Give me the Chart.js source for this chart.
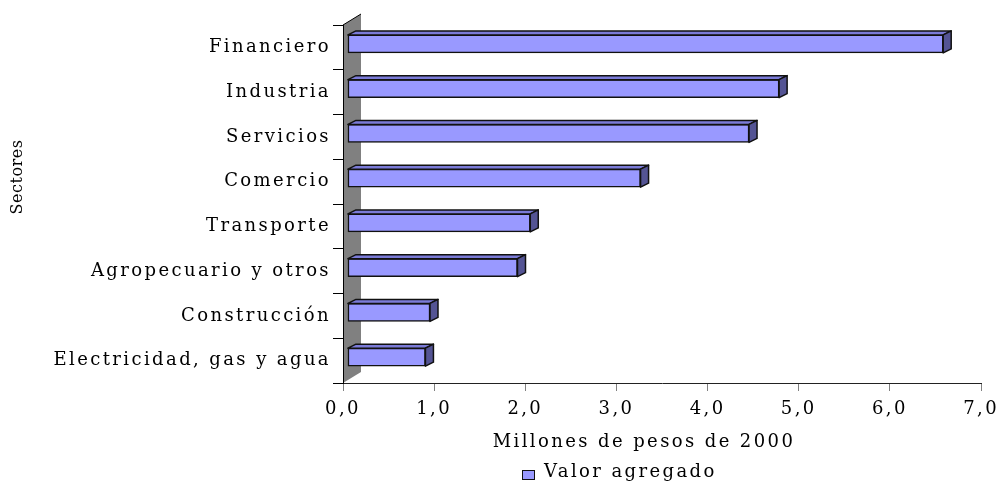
<!DOCTYPE html>
<html>
<head>
<meta charset="utf-8">
<script src="https://cdn.jsdelivr.net/npm/chart.js@4.4.0/dist/chart.umd.min.js"></script>
<style>
    html, body { margin: 0; padding: 0; background: #fff; }
    #wrap { width: 1007px; height: 483px; }
</style>
</head>
<body>
<div id="wrap"><canvas id="myChart" width="1007" height="483"></canvas></div>
<script>
// datos
const sectores = [
    'Financiero',
    'Industria',
    'Servicios',
    'Comercio',
    'Transporte',
    'Agropecuario y otros',
    'Construcción',
    'Electricidad, gas y agua'
];
const valorAgregado = [6.53, 4.73, 4.40, 3.21, 2.00, 1.86, 0.90, 0.85];
const xTickLabels = ['0,0', '1,0', '2,0', '3,0', '4,0', '5,0', '6,0', '7,0'];
const serie = 'Valor agregado';
const tituloX = 'Millones de pesos de 2000';
const tituloY = 'Sectores';

const SERIF = "'DejaVu Serif', 'Liberation Serif', serif";
const ESPACIO = '2.4px';

// el canvas puede reiniciar su estado, asi que se vuelve a poner
const espaciado = {
    id: 'espaciado',
    beforeLayout(chart) { chart.ctx.letterSpacing = ESPACIO; },
    beforeDraw(chart) { chart.ctx.letterSpacing = ESPACIO; }
};

// pared gris del grafico 3D
const pared = {
    id: 'pared',
    beforeDraw(chart) {
        const { ctx, chartArea: a } = chart;
        const dx = 18, dy = -11;
        ctx.save();
        ctx.fillStyle = '#808080';
        ctx.beginPath();
        ctx.moveTo(a.left, a.top);
        ctx.lineTo(a.left + dx, a.top + dy);
        ctx.lineTo(a.left + dx, a.bottom + dy);
        ctx.lineTo(a.left, a.bottom);
        ctx.closePath();
        ctx.fill();
        ctx.strokeStyle = '#000';
        ctx.lineWidth = 1;
        ctx.beginPath();
        ctx.moveTo(a.left, a.top);
        ctx.lineTo(a.left + dx, a.top + dy);
        ctx.stroke();
        ctx.restore();
    }
};

// caras superior y lateral de cada barra
const caras = {
    id: 'caras',
    afterDatasetsDraw(chart) {
        const ctx = chart.ctx;
        const dx = 8, dy = -4;
        chart.getDatasetMeta(0).data.forEach(bar => {
            const { x, y, base, height } = bar.getProps(['x', 'y', 'base', 'height'], true);
            const top = y - height / 2;
            const bottom = y + height / 2;
            ctx.save();
            ctx.lineWidth = 1.5;
            ctx.strokeStyle = '#111';
            ctx.lineJoin = 'round';

            ctx.fillStyle = '#7b7bd8';
            ctx.beginPath();
            ctx.moveTo(base, top);
            ctx.lineTo(base + dx, top + dy);
            ctx.lineTo(x + dx, top + dy);
            ctx.lineTo(x, top);
            ctx.closePath();
            ctx.fill();
            ctx.stroke();

            ctx.fillStyle = '#545494';
            ctx.beginPath();
            ctx.moveTo(x, top);
            ctx.lineTo(x + dx, top + dy);
            ctx.lineTo(x + dx, bottom + dy);
            ctx.lineTo(x, bottom);
            ctx.closePath();
            ctx.fill();
            ctx.stroke();
            ctx.restore();
        });
    }
};

// titulos de ejes y leyenda
const textos = {
    id: 'textos',
    afterDraw(chart) {
        const ctx = chart.ctx;
        ctx.save();
        ctx.fillStyle = '#000';
        ctx.font = '18px ' + SERIF;
        ctx.letterSpacing = ESPACIO;
        ctx.textBaseline = 'middle';
        ctx.textAlign = 'center';
        ctx.fillText(tituloX, 644, 442);

        ctx.fillStyle = '#9999ff';
        ctx.fillRect(522.5, 470.5, 12, 9);
        ctx.strokeStyle = '#111';
        ctx.lineWidth = 1;
        ctx.strokeRect(522.5, 470.5, 12, 9);
        ctx.fillStyle = '#000';
        ctx.textAlign = 'left';
        ctx.fillText(serie, 544, 472);

        ctx.font = '16px ' + SERIF;
        ctx.translate(18, 177);
        ctx.rotate(-Math.PI / 2);
        ctx.letterSpacing = '0.5px';
        ctx.textAlign = 'center';
        ctx.fillText(tituloY, 0, 0);
        ctx.restore();
    }
};

// la cara frontal de las barras queda un poco dentro de la profundidad
const desfaseX = 5 / 92;
const desfaseY = 3.5 / 44.75;

document.addEventListener('DOMContentLoaded', () => {
    const ctx = document.getElementById('myChart').getContext('2d');
    const fuente = { family: SERIF, size: 18 };

    new Chart(ctx, {
        type: 'bar',
        data: {
            labels: sectores,
            datasets: [{
                label: serie,
                data: valorAgregado.map((v, i) => ({ x: v, y: i })),
                xAxisID: 'xb',
                yAxisID: 'yb',
                backgroundColor: '#9999ff',
                borderColor: '#111',
                borderWidth: 1.5,
                borderSkipped: false,
                barThickness: 18
            }]
        },
        options: {
            indexAxis: 'y',
            responsive: false,
            animation: false,
            layout: { padding: { top: 25, right: 20, left: 0, bottom: 0 } },
            plugins: {
                legend: { display: false },
                tooltip: { enabled: false }
            },
            scales: {
                x: {
                    type: 'linear',
                    position: 'bottom',
                    min: 0,
                    max: 7,
                    ticks: {
                        stepSize: 1,
                        maxRotation: 0,
                        color: '#000',
                        font: fuente,
                        padding: 8,
                        callback: (v, i) => xTickLabels[i]
                    },
                    grid: { drawOnChartArea: false, drawTicks: true, tickLength: 8, color: '#808080' },
                    border: { color: '#222', width: 1 },
                    afterFit: s => { s.height = 100; }
                },
                y: {
                    type: 'category',
                    position: 'left',
                    ticks: { color: '#000', font: fuente, padding: 2 },
                    grid: { offset: true, drawOnChartArea: false, tickLength: 10, color: '#000' },
                    border: { color: '#000', width: 1 },
                    afterFit: s => { s.width = 343; }
                },
                xb: { type: 'linear', display: false, offset: false, min: -desfaseX, max: 7 - desfaseX },
                yb: {
                    type: 'linear', display: false, offset: false, reverse: true, bounds: 'data',
                    min: -0.5 + desfaseY, max: 7.5 + desfaseY
                }
            }
        },
        plugins: [espaciado, pared, caras, textos]
    });
});
</script>
</body>
</html>
